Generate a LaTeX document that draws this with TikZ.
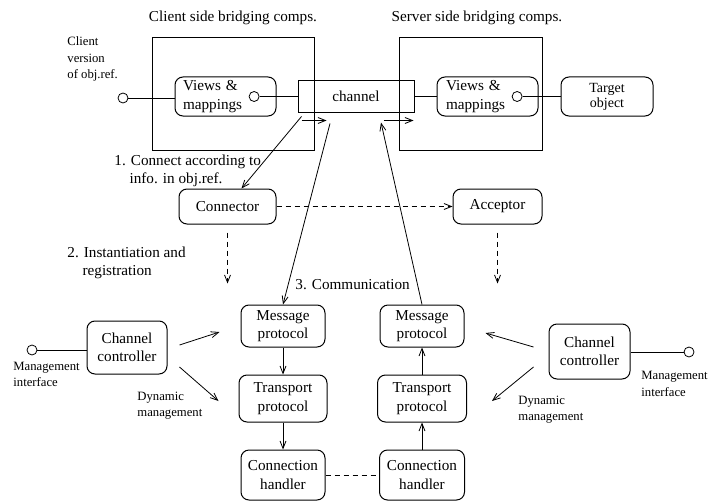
\documentclass[tikz,border=0pt]{standalone}
\usepackage{fontspec}
\setmainfont{Liberation Serif}
\usetikzlibrary{arrows.meta, positioning}

\newcommand{\mainsize}{\fontsize{15.2}{18.5}\selectfont}
\newcommand{\smallsize}{\fontsize{12.7}{16.5}\selectfont}

\begin{document}
\begin{tikzpicture}[x=1pt,y=-1pt,>={Straight Barb[length=7.5pt,width=6pt]},
		line width=0.8pt,font=\mainsize,
		comp/.style={draw,line width=1pt,rounded corners=8pt,align=center,inner sep=2pt},
		bridge/.style={draw,line width=1pt,rectangle,inner sep=0pt},
		port/.style={circle,draw,inner sep=0pt,minimum size=10pt},
		note/.style={align=left,inner sep=0pt,anchor=west},
		ctrl/.style={dash pattern=on 5pt off 4pt}]

		\useasboundingbox (0,0) rectangle (708,500);

		%% Nodes
		\begin{scope}
			\node (client_box) at (233, 94) [bridge, minimum width=162, minimum height=112] {};
			\node (client_title) at (233, 18) {Client side bridging comps.};

			\node (server_box) at (470.5, 94) [bridge, minimum width=143, minimum height=112] {};
			\node (server_title) at (477, 18) {Server side bridging comps.};

			\node (channel) at (356, 96.5) [bridge, minimum width=116, minimum height=31] {channel};
		\end{scope}

		% Client side
		\begin{scope}
			\node (client_ref) at (67, 59) [note, font=\smallsize] {Client\\version\\of obj.ref.};
			\node (client_port) at (123, 98) [port] {};
			\node (client_views) at (225.5, 96.5) [comp, align=left, text width=85, inner xsep=8, minimum height=39] {Views \&\\mappings};
			\node (client_views_port) [port, left = 17pt of client_views.east] {};
		\end{scope}

		% Server side
		\begin{scope}
			\node (server_views) at (487.5, 96.5) [comp, align=left, text width=83, inner xsep=9, minimum height=39] {Views \&\\mappings};
			\node (server_views_port) [port, left = 16pt of server_views.east] {};
			\node (target) at (607, 96.5) [comp, minimum width=92, minimum height=39, font=\fontsize{14}{15}\selectfont] {Target\\object};
		\end{scope}

		% Connection setup
		\begin{scope}
			\node (connector) at (227.5, 206.5) [comp, minimum width=97, minimum height=35] {Connector};
			\node (acceptor) at (497.5, 206.5) [comp, minimum width=89, minimum height=35] {Acceptor};

			\node (connect_text) at (114, 171) [note] {1. Connect according to\\\hphantom{1.\ }info. in obj.ref.};
			\node (register_text) at (67, 263) [note] {2. Instantiation and\\\hphantom{2.\ }registration};
			\node (comm_text) at (295, 285) [note] {3. Communication};
		\end{scope}

		% Protocol stacks
		\begin{scope}
			\node (msg_left) at (283, 326) [comp, minimum width=84, minimum height=42] {Message\\protocol};
			\node (transport_left) [comp, below = 27pt of msg_left, minimum width=88, minimum height=47] {Transport\\protocol};
			\node (handler_left) [comp, below = 27pt of transport_left, minimum width=84, minimum height=50] {Connection\\handler};

			\node (msg_right) at (422, 326) [comp, minimum width=84, minimum height=42] {Message\\protocol};
			\node (transport_right) [comp, below = 27pt of msg_right, minimum width=89, minimum height=47] {Transport\\protocol};
			\node (handler_right) [comp, below = 27pt of transport_right, minimum width=85, minimum height=50] {Connection\\handler};
		\end{scope}

		% Management
		\begin{scope}
			\node (ctrl_left) at (127, 347.5) [comp, minimum width=80, minimum height=53] {Channel\\controller};
			\node (mgmt_port_left) at (32, 350) [port] {};
			\node (mgmt_left) at (13, 374.5) [note, font=\smallsize] {Management\\interface};
			\node (dyn_left) at (137, 405.5) [note, font=\smallsize] {Dynamic\\management};

			\node (ctrl_right) at (589.5, 351.5) [comp, minimum width=81, minimum height=55] {Channel\\controller};
			\node (mgmt_port_right) at (689, 352) [port] {};
			\node (mgmt_right) at (641, 384) [note, font=\smallsize] {Management\\interface};
			\node (dyn_right) at (518, 409.5) [note, font=\smallsize] {Dynamic\\management};
		\end{scope}

		%% Edges
		\draw (client_port) -- (client_port -| client_views.west);
		\draw (client_views_port) -- (client_views_port -| channel.west);
		\draw (channel.east) -- (server_views.west);
		\draw (server_views_port) -- (server_views_port -| target.west);

		\draw[->] ([shift={(4,8)}]channel.south west) -- ([shift={(29,8)}]channel.south west);
		\draw[->] ([shift={(-31,8)}]channel.south east) -- ([shift={(-1,8)}]channel.south east);

		\draw[->] ([shift={(4,4)}]channel.south west) -- ([xshift=14]connector.north);
		\draw[->] ([shift={(-26,11)}]channel.south) -- (msg_left.north);
		\draw[->] (msg_right.north) -- ([shift={(25,10)}]channel.south);

		\draw[->, ctrl] (connector.east) -- (acceptor.west);
		\draw[->, ctrl] ([shift={(0,8)}]connector.south) -- ([shift={(0,59)}]connector.south);
		\draw[->, ctrl] ([shift={(0,8)}]acceptor.south) -- ([shift={(0,59)}]acceptor.south);

		\draw[->] (msg_left) -- (transport_left);
		\draw[->] (transport_left) -- (handler_left);
		\draw[->] (handler_right) -- (transport_right);
		\draw[->] (transport_right) -- (msg_right);
		\draw[ctrl] (handler_left) -- (handler_right);

		\draw (mgmt_port_left) -- (mgmt_port_left -| ctrl_left.west);
		\draw[->] ([shift={(12,-2.5)}]ctrl_left.east) -- ([shift={(-21,6)}]msg_left.west);
		\draw[->] ([shift={(12,19.5)}]ctrl_left.east) -- ([shift={(-20,2.5)}]transport_left.west);

		\draw (mgmt_port_right) -- (mgmt_port_right -| ctrl_right.east);
		\draw[->] ([shift={(-15,-4.5)}]ctrl_right.west) -- ([shift={(21,7)}]msg_right.east);
		\draw[->] ([shift={(-15,15.5)}]ctrl_right.west) -- ([shift={(25,2.5)}]transport_right.east);
	\end{tikzpicture}
\end{document}
